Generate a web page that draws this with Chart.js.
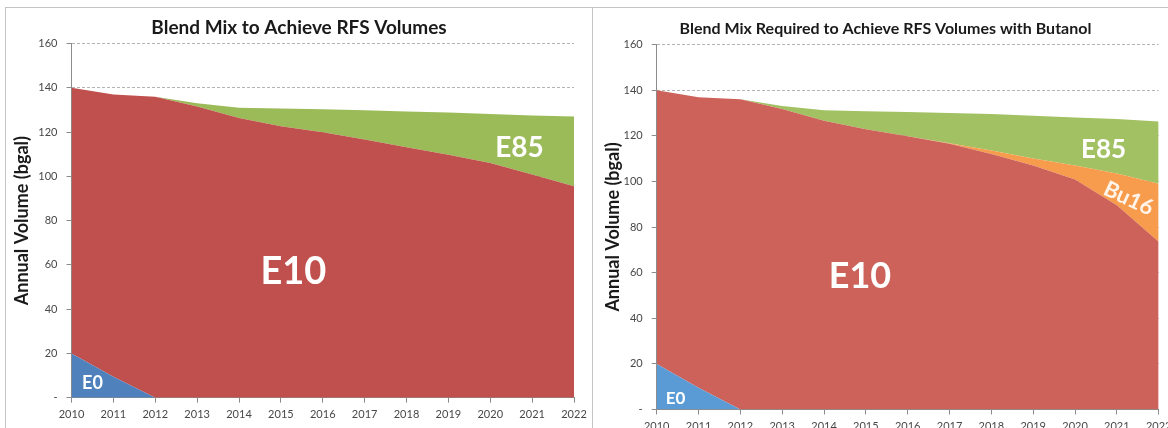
<!DOCTYPE html>
<html>
<head>
<meta charset="utf-8">
<script src="https://cdn.jsdelivr.net/npm/chart.js@4"></script>
<style>
  html, body { margin: 0; padding: 0; background: #fff; overflow: hidden; width: 1168px; height: 428px; }
  #frame { position: absolute; left: 5px; top: 7px; width: 1200px; height: 440px; border-left: 1px solid #c4c4c4; border-top: 1px solid #c4c4c4; }
  #divider { position: absolute; left: 592px; top: 7px; width: 1px; height: 440px; background: #c4c4c4; }
  #left { position: absolute; left: 6px; top: 8px; }
  #right { position: absolute; left: 593px; top: 8px; }
</style>
</head>
<body>
<div id="frame"></div>
<div id="divider"></div>
<canvas id="left" width="586" height="420"></canvas>
<canvas id="right" width="585" height="420"></canvas>
<script>
const years = ['2010', '2011', '2012', '2013', '2014', '2015', '2016', '2017', '2018', '2019', '2020', '2021', '2022'];

// left chart: Blend Mix to Achieve RFS Volumes (bgal, stacked)
const leftE0 = [20, 9.5, 0, 0, 0, 0, 0, 0, 0, 0, 0, 0, 0];
const leftE10 = [120, 127.5, 136, 131.5, 126.4, 122.6, 119.9, 116.6, 113.1, 109.8, 106, 100.8, 95.5];
const leftE85 = [0, 0, 0, 1.5, 4.6, 8, 10.4, 13.2, 16.2, 19, 22.2, 26.7, 31.5];

// right chart: with Butanol
const rightE0 = [20, 9.5, 0, 0, 0, 0, 0, 0, 0, 0, 0, 0, 0];
const rightE10 = [120, 127.4, 136, 131.7, 126.6, 122.8, 119.8, 116.5, 112, 107, 100.8, 89.5, 73.5];
const rightBu16 = [0, 0, 0, 0, 0, 0, 0, 0.2, 1.5, 3, 6.2, 14, 25.5];
const rightE85 = [0, 0, 0, 1.3, 4.6, 7.9, 10.6, 13.3, 16, 18.8, 21, 23.8, 27.2];

const FONT = 'Lato, "Open Sans", sans-serif';

// heading + text labels painted inside the areas (labels placed with the chart's scales)
const areaLabels = {
    id: 'areaLabels',
    afterDatasetsDraw(chart, args, opts) {
        const ctx = chart.ctx;
        const xs = chart.scales.x, ys = chart.scales.y;
        ctx.save();
        ctx.font = 'bold ' + opts.heading.size + 'px ' + FONT;
        ctx.fillStyle = '#1a1a1a';
        ctx.textAlign = 'center';
        ctx.textBaseline = 'middle';
        ctx.fillText(opts.heading.text, opts.heading.x, opts.heading.y);
        ctx.restore();
        (opts.items || []).forEach(it => {
            ctx.save();
            ctx.translate(xs.getPixelForValue(it.x), ys.getPixelForValue(it.y));
            ctx.rotate((it.rot || 0) * Math.PI / 180);
            ctx.font = 'bold ' + it.size + 'px ' + FONT;
            ctx.fillStyle = it.color || '#fff';
            ctx.textAlign = 'center';
            ctx.textBaseline = 'middle';
            ctx.fillText(it.text, 0, 0);
            ctx.restore();
        });
    }
};

function area(label, data, color, fill) {
    return {
        label: label,
        data: data,
        backgroundColor: color,
        borderColor: color,
        borderWidth: 0,
        pointRadius: 0,
        tension: 0,
        fill: fill
    };
}

function makeChart(id, cfg) {
    return new Chart(document.getElementById(id), {
        type: 'line',
        data: { labels: years, datasets: cfg.datasets },
        plugins: [areaLabels],
        options: {
            responsive: false,
            animation: false,
            layout: { padding: { left: 0, right: cfg.padRight, top: cfg.padTop, bottom: 0 } },
            plugins: {
                legend: { display: false },
                tooltip: { enabled: false },
                title: { display: false },
                areaLabels: { heading: cfg.heading, items: cfg.labels }
            },
            scales: {
                x: {
                    offset: false,
                    afterFit: s => { s.height = cfg.xHeight; },
                    grid: { drawOnChartArea: false, drawTicks: true, tickLength: 5, color: '#8c8c8c' },
                    border: { display: true, color: '#8c8c8c', width: 1 },
                    ticks: { color: '#484848', font: { family: FONT, size: 11 }, padding: cfg.xPad, maxRotation: 0, autoSkip: false }
                },
                y: {
                    stacked: true,
                    min: 0,
                    max: 160,
                    afterFit: s => { s.width = cfg.yWidth; },
                    grid: { color: '#b4b4b4', tickColor: '#8c8c8c', tickLength: 5, tickBorderDash: [] },
                    border: { display: true, color: '#8c8c8c', width: 1, dash: [3, 2] },
                    ticks: {
                        stepSize: 20,
                        color: '#484848',
                        padding: 9,
                        font: { family: FONT, size: 11 },
                        callback: v => v === 0 ? '-' : v
                    },
                    title: {
                        display: true,
                        text: 'Annual Volume (bgal)',
                        color: '#1a1a1a',
                        font: { family: FONT, size: 18, weight: 'bold' },
                        padding: { top: cfg.yTitlePad, bottom: 0 }
                    }
                }
            }
        }
    });
}

makeChart('left', {
    heading: { text: 'Blend Mix to Achieve RFS Volumes', x: 293, y: 19.5, size: 19 },
    padTop: 35.5, padRight: 18, yWidth: 65.5, xHeight: 30.3, yTitlePad: 5.2, xPad: 5,
    datasets: [
        area('E0', leftE0, '#4f81bd', 'origin'),
        area('E10', leftE10, '#c0504d', '-1'),
        area('E85', leftE85, '#9bbb59', '-1')
    ],
    labels: [
        { text: 'E10', x: 5.3, y: 57, size: 38 },
        { text: 'E85', x: 10.7, y: 113, size: 28 },
        { text: 'E0', x: 0.5, y: 6.5, size: 18 }
    ]
});

makeChart('right', {
    heading: { text: 'Blend Mix Required to Achieve RFS Volumes with Butanol', x: 292.5, y: 21, size: 16 },
    padTop: 36.5, padRight: 19.3, yWidth: 63.7, xHeight: 18.5, yTitlePad: 9.2, xPad: 5,
    datasets: [
        area('E0', rightE0, '#5b9bd5', 'origin'),
        area('E10', rightE10, '#cd625a', '-1'),
        area('Bu16', rightBu16, '#f79c4c', '-1'),
        area('E85', rightE85, '#a2c163', '-1')
    ],
    labels: [
        { text: 'E10', x: 4.86, y: 58.5, size: 36 },
        { text: 'E85', x: 10.68, y: 114, size: 26 },
        { text: 'Bu16', x: 11.28, y: 92.5, size: 22, rot: 25, color: '#fff4ea' },
        { text: 'E0', x: 0.45, y: 4.6, size: 17 }
    ]
});
</script>
</body>
</html>
